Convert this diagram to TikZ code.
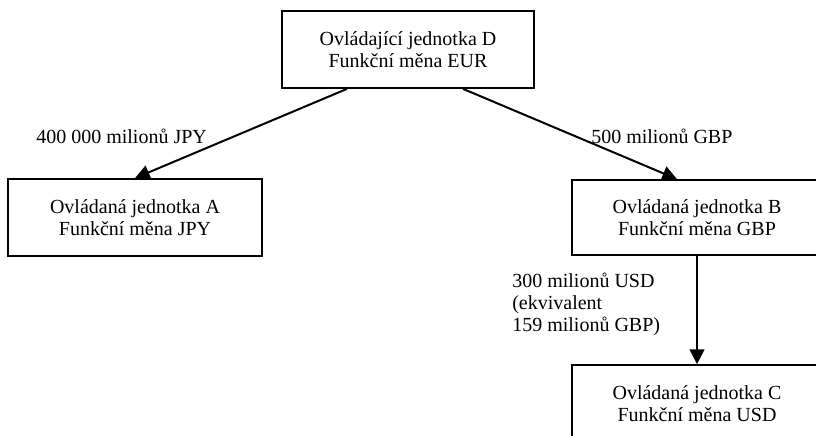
\documentclass[tikz,border=0pt]{standalone}
\usepackage{fontspec}
\setmainfont{Liberation Serif}
\usetikzlibrary{arrows.meta}
\begin{document}
\begin{tikzpicture}[x=0.75pt,y=-0.75pt,
  unit/.style={draw, line width=1.3pt, align=center, inner sep=0pt,
    font=\fontsize{15}{16.5}\selectfont, minimum height=57.75pt},
  link/.style={line width=1.5pt, -{Triangle[length=11pt,width=11pt]}},
  amount/.style={font=\fontsize{15}{16.5}\selectfont, inner sep=0pt,
    anchor=base west, align=left}]
\useasboundingbox (0,0) rectangle (816,435);
\clip (0,0) rectangle (816,435);

% entities
\node[unit, minimum width=189pt] (D) at (408,49.5)
  {Ovládající jednotka D\\Funkční měna EUR};
\node[unit, minimum width=190.5pt] (A) at (135,217.5)
  {Ovládaná jednotka A\\Funkční měna JPY};
\node[unit, minimum width=187.5pt, minimum height=56.25pt] (B) at (697,217.5)
  {Ovládaná jednotka B\\Funkční měna GBP};
\node[unit, minimum width=187.5pt] (C) at (697,403.5)
  {Ovládaná jednotka C\\Funkční měna USD};

% investments
\draw[link] ([xshift=-45.75pt]D.south) -- (A.north);
\draw[link] ([xshift=41.25pt]D.south) -- ([xshift=-15pt]B.north);
\draw[link] (B.south) -- (C.north);

% amounts (a multi-line node sits on the baseline of its last line)
\node[amount] (jpy) at (36,143) {400 000 milionů JPY};
\node[amount] (gbp) at (591,143) {500 milionů GBP};
\node[amount] (usd) at (512,331) {300 milionů USD\\(ekvivalent\\159 milionů GBP)};
\end{tikzpicture}
\end{document}
